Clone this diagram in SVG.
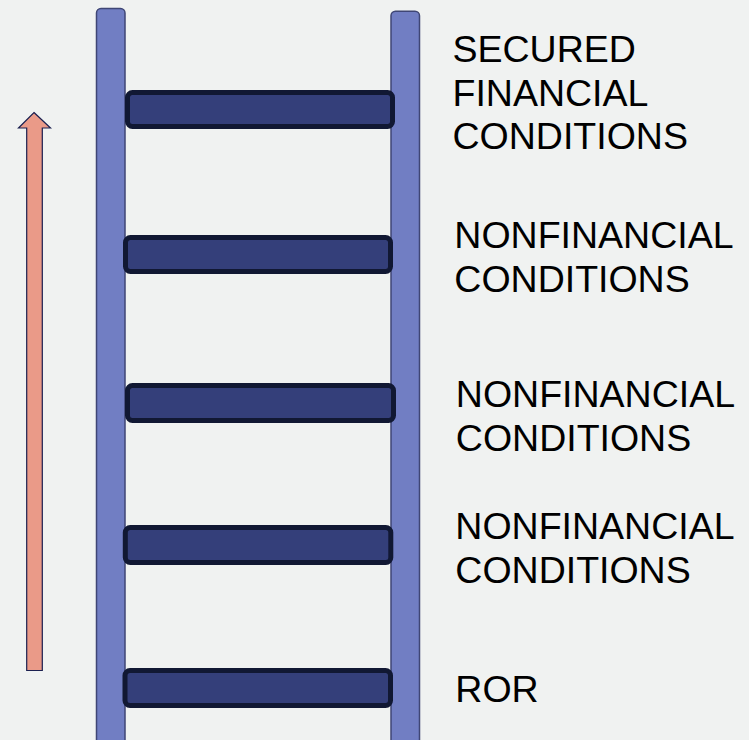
<svg xmlns="http://www.w3.org/2000/svg" width="749" height="740" viewBox="0 0 749 740">
<style>
.rail{fill:#717EC3;stroke:#3F4675;stroke-width:1.5}
.rung{fill:#343F7A;stroke:#111833;stroke-width:5}
.lbl{font-family:"Liberation Sans",Arial,sans-serif;font-size:37.5px;fill:#000}
</style>
<rect width="749" height="740" fill="#F0F2F1"/>
<g id="arrow">
<polygon points="34,112.5 50.5,128 42.3,128 42.3,670.5 26.7,670.5 26.7,128 18.5,128" fill="#EA9A88" stroke="#1B2050" stroke-width="1.2"/>
</g>
<g id="rails">
<rect id="rail-left" class="rail" x="96.5" y="8.5" width="28.5" height="740" rx="4.5"/>
<rect id="rail-right" class="rail" x="391" y="11.3" width="28.5" height="740" rx="4.5"/>
</g>
<g id="rung1"><rect class="rung" x="127.5" y="92.5" width="265" height="34" rx="5"/></g>
<g id="rung2"><rect class="rung" x="125.5" y="237.5" width="265" height="34" rx="5"/></g>
<g id="rung3"><rect class="rung" x="127.5" y="385.5" width="266" height="35" rx="5"/></g>
<g id="rung4"><rect class="rung" x="125.3" y="527.5" width="265.5" height="35" rx="5"/></g>
<g id="rung5"><rect class="rung" x="125" y="670.5" width="265.5" height="35" rx="5"/></g>
<g id="label1"><text class="lbl" x="452.5" y="62">SECURED</text><text class="lbl" x="452.5" y="106">FINANCIAL</text><text class="lbl" x="452.5" y="149">CONDITIONS</text></g>
<g id="label2"><text class="lbl" x="454.3" y="247.5">NONFINANCIAL</text><text class="lbl" x="454.3" y="292">CONDITIONS</text></g>
<g id="label3"><text class="lbl" x="455.8" y="406.5">NONFINANCIAL</text><text class="lbl" x="455.8" y="451">CONDITIONS</text></g>
<g id="label4"><text class="lbl" x="455.3" y="539">NONFINANCIAL</text><text class="lbl" x="455.3" y="583">CONDITIONS</text></g>
<g id="label5"><text class="lbl" x="455.3" y="701.5">ROR</text></g>
</svg>
